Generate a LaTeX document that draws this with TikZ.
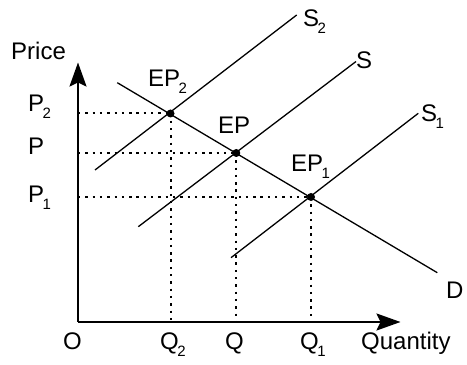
\documentclass[tikz,border=0pt]{standalone}
\usepackage{fontspec}
\setmainfont{Liberation Sans}
\usepackage{tikz}
\usetikzlibrary{arrows.meta}
\tikzset{
  ax/.style={-{Stealth[length=24pt,width=17pt,inset=4pt]},line width=2pt},
  ln/.style={line width=1.3pt},
  dt/.style={line width=2pt,dash pattern=on 2.4pt off 4.9pt},
  lb/.style={anchor=base west,inner sep=0pt,font=\fontsize{24}{28}\selectfont},
  eq/.style={circle,fill,inner sep=0pt,minimum size=8pt}
}
\newcommand{\subx}[1]{\kern-1.5pt\raisebox{-7pt}{\fontsize{15}{15}\selectfont #1}}

\begin{document}
\begin{tikzpicture}[x=1pt,y=1pt]
\useasboundingbox (0,0) rectangle (467,365);
\coordinate (O) at (78,43);
\coordinate (ytip) at (78,302.5);
\coordinate (xtip) at (400.5,43);
\coordinate (d0) at (117.3,282.3); \coordinate (d1) at (437.3,92.3);
\coordinate (s20) at (95,195);     \coordinate (s21) at (296.7,350);
\coordinate (s0) at (138.3,138.3); \coordinate (s1) at (356,303.5);
\coordinate (s10) at (231,107.3);  \coordinate (s11) at (418.3,251.7);
\node[eq] (ep2) at (170.5,251.5) {};
\node[eq] (ep) at (236.3,212) {};
\node[eq] (ep1) at (311,168) {};
\foreach \e in {ep2,ep,ep1}{
  \draw[dt] (O |- \e.center) -- (\e.center);
  \draw[dt] (\e.center) -- (\e.center |- O);}
\draw[ln] (d0) -- (d1);
\draw[ln] (s20) -- (s21);
\draw[ln] (s0) -- (s1);
\draw[ln] (s10) -- (s11);
\draw[ax] (O) -- (ytip);
\draw[ax] (O) -- (xtip);
\node[lb] (price) at (11,305) {Price};
\node[lb] (quantity) at (361,16) {Quantity};
\node[lb] (lo) at (63,16) {O};
\node[lb] (lp2) at (28,253) {P\subx{2}};
\node[lb] (lp) at (28,210.5) {P};
\node[lb] (lp1) at (28,162) {P\subx{1}};
\node[lb] (lq2) at (160,16) {Q\subx{2}};
\node[lb] (lq) at (225,16) {Q};
\node[lb] (lq1) at (300,16) {Q\subx{1}};
\node[lb] (lep2) at (148,278.3) {EP\subx{2}};
\node[lb] (lep) at (218,231.7) {EP};
\node[lb] (lep1) at (291,193.3) {EP\subx{1}};
\node[lb] (ls2) at (303,338.3) {S\subx{2}};
\node[lb] (ls) at (356,296) {S};
\node[lb] (ls1) at (421,243.3) {S\subx{1}};
\node[lb] (ld) at (446,66.7) {D};
\end{tikzpicture}
\end{document}
